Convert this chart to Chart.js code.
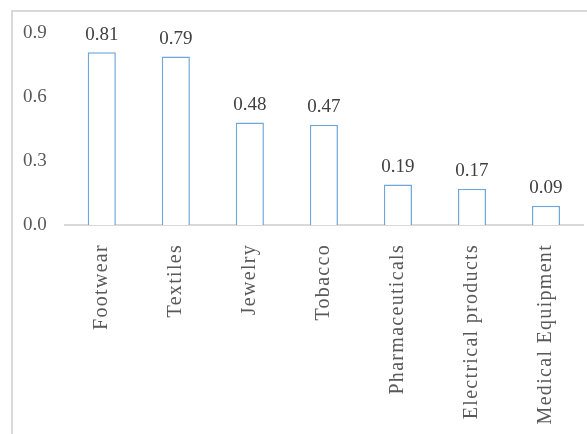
<!DOCTYPE html>
<html>
<head>
<meta charset="utf-8">
<script src="https://cdn.jsdelivr.net/npm/chart.js@4.4.1/dist/chart.umd.min.js"></script>
<style>
  html, body { margin: 0; padding: 0; background: #fff; }
  #wrap { position: relative; width: 587px; height: 434px; overflow: hidden; }
  #frame {
    position: absolute; left: 11px; top: 10px; width: 600px; height: 450px;
    border-left: 2px solid #d9d9d9; border-top: 2px solid #d9d9d9;
  }
  canvas { position: absolute; left: 0; top: 0; }
</style>
</head>
<body>
<div id="wrap">
  <div id="frame"></div>
  <canvas id="chart" width="587" height="434"></canvas>
</div>
<script>
const categories = ["Footwear", "Textiles", "Jewelry", "Tobacco", "Pharmaceuticals", "Electrical products", "Medical Equipment"];
const values = [0.81, 0.79, 0.48, 0.47, 0.19, 0.17, 0.09];
const yTicks = [0, 0.3, 0.6, 0.9];

const FONT = "'Liberation Serif', 'Times New Roman', serif";
const X_LETTER_SPACING = "1.3px";

// draws the number above each bar
const valueLabels = {
  id: "valueLabels",
  afterDatasetsDraw(chart) {
    const { ctx } = chart;
    const meta = chart.getDatasetMeta(0);
    ctx.save();
    ctx.letterSpacing = "0px";
    ctx.font = `19px ${FONT}`;
    ctx.fillStyle = "#404040";
    ctx.textAlign = "center";
    ctx.textBaseline = "bottom";
    meta.data.forEach((bar, i) => {
      ctx.fillText(values[i].toFixed(2), bar.x, bar.y - 8);
    });
    ctx.restore();
  },
};

// the category labels in the original are spaced out a bit
const spacedXLabels = {
  id: "spacedXLabels",
  beforeLayout(chart) {
    const scale = chart.scales.x;
    if (!scale || scale._spaced) return;
    scale._spaced = true;
    const orig = scale.drawLabels;
    scale.drawLabels = function (...args) {
      const ctx = this.ctx;
      ctx.save();
      ctx.letterSpacing = X_LETTER_SPACING;
      orig.apply(this, args);
      ctx.restore();
    };
  },
};

new Chart(document.getElementById("chart"), {
  type: "bar",
  data: {
    labels: categories,
    datasets: [
      {
        data: values,
        backgroundColor: "#ffffff",
        borderColor: "#6fa7dd",
        borderWidth: 1.5,
        barPercentage: 0.38,
        categoryPercentage: 1,
      },
    ],
  },
  options: {
    responsive: false,
    animation: false,
    layout: { padding: { left: 13, top: 33, right: 4, bottom: 4 } },
    plugins: {
      legend: { display: false },
      tooltip: { enabled: false },
    },
    scales: {
      x: {
        afterFit: (scale) => {
          scale.height = 205;
        },
        grid: { display: false },
        border: { display: true, color: "#d9d9d9", width: 2 },
        ticks: {
          color: "#595959",
          font: { family: FONT, size: 20 },
          minRotation: 90,
          maxRotation: 90,
          padding: 11,
        },
      },
      y: {
        min: 0,
        max: 0.9,
        afterBuildTicks: (scale) => {
          scale.ticks = yTicks.map((v) => ({ value: v }));
        },
        grid: { display: false },
        border: { display: false },
        ticks: {
          color: "#595959",
          font: { family: FONT, size: 19 },
          padding: 10,
          callback: (v) => Number(v).toFixed(1),
        },
      },
    },
  },
  plugins: [spacedXLabels, valueLabels],
});
</script>
</body>
</html>
